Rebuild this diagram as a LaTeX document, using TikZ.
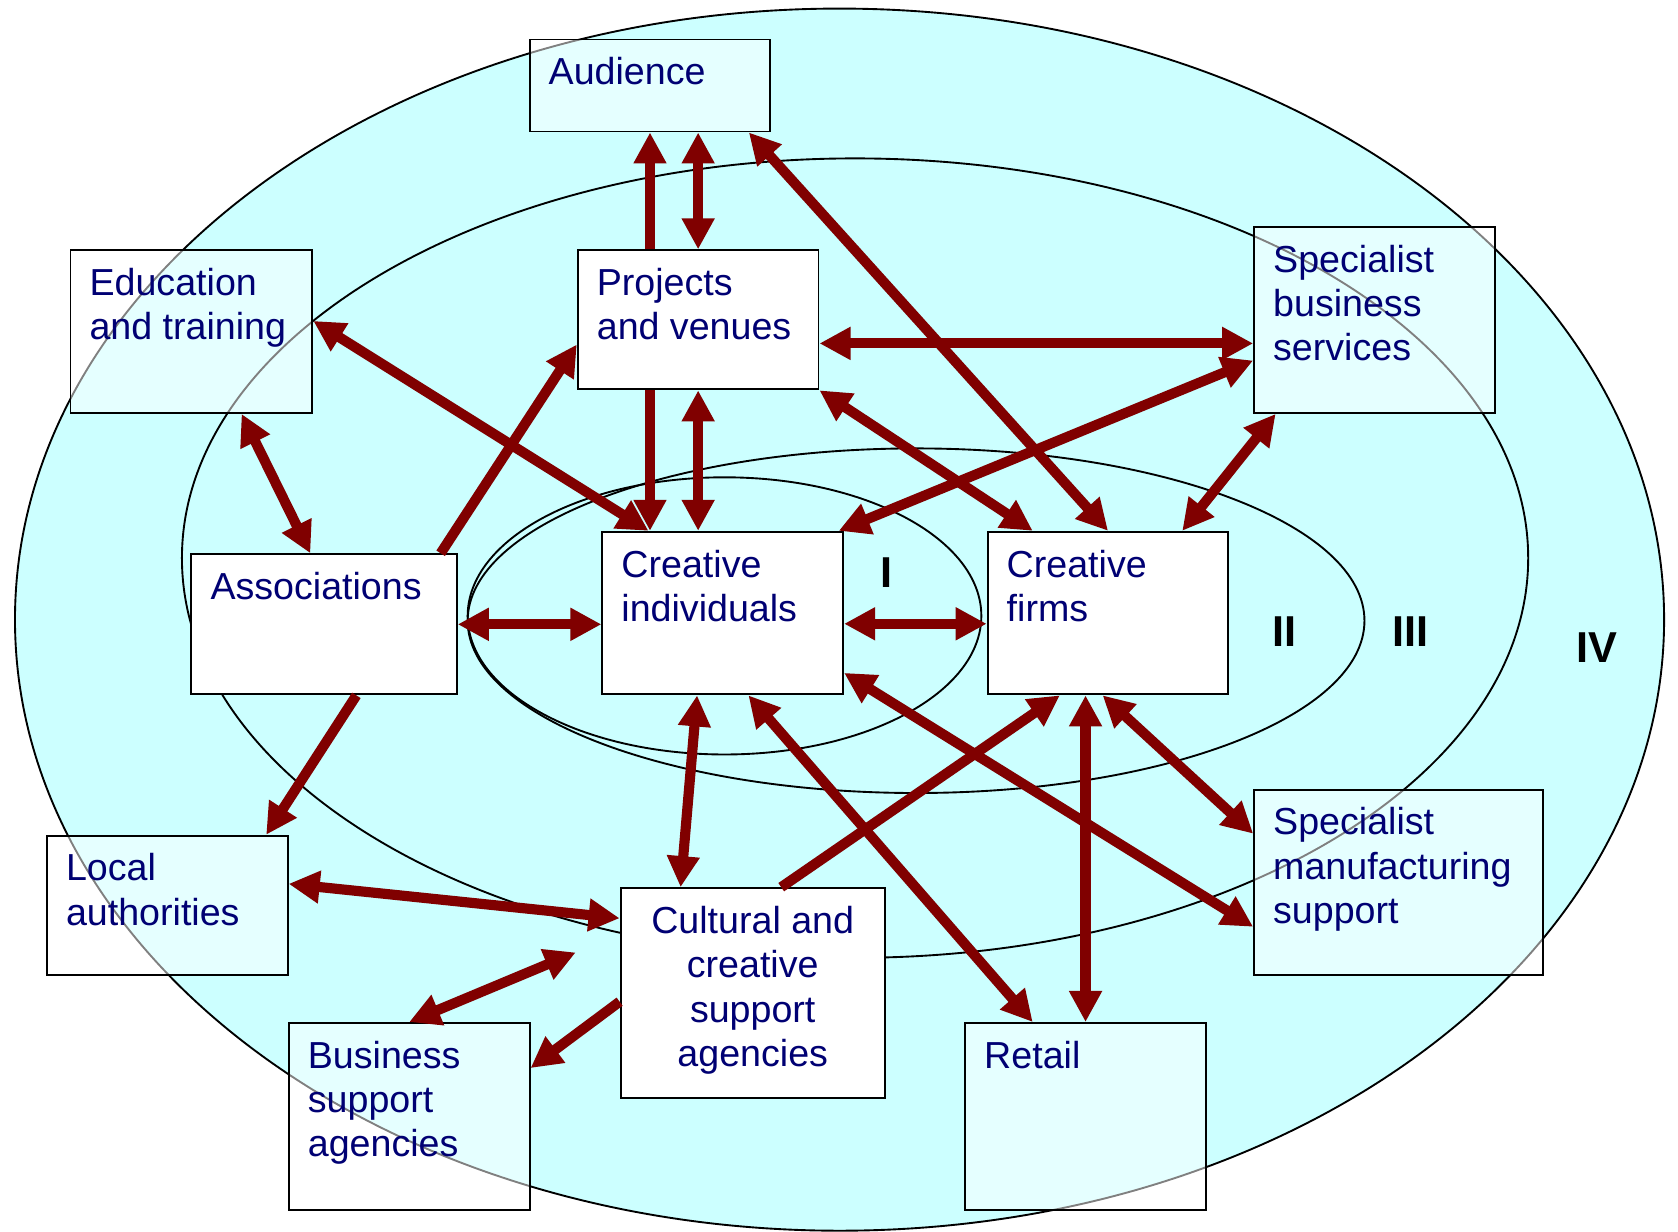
\documentclass[tikz,border=0pt]{standalone}
\usepackage{fontspec}
\setmainfont{Liberation Sans}
\usetikzlibrary{arrows.meta}

\definecolor{ring}{RGB}{204,255,255}
\definecolor{link}{RGB}{128,0,0}
\definecolor{boxtext}{RGB}{0,0,115}
\tikzset{
  actor/.style={draw,fill=white,line width=0.5pt,inner sep=0pt,anchor=north west},
  outer/.style={actor,fill opacity=0.5},
  textbase/.style={inner sep=0pt,text=boxtext,text opacity=1,font=\fontsize{10}{11.8}\selectfont},
  boxlabel/.style={textbase,anchor=north west,xshift=1.8mm,yshift=-1.7mm,align=left},
  midlabel/.style={textbase,anchor=north,yshift=-1.7mm,align=center},
  numeral/.style={font=\fontsize{11.5}{13}\selectfont\bfseries},
  oneway/.style={line width=2.7pt,draw=link,-{Triangle[length=2.9mm,width=2.9mm]}},
  twoway/.style={line width=2.7pt,draw=link,{Triangle[length=2.9mm,width=2.9mm]}-{Triangle[length=2.9mm,width=2.9mm]}},
}

\begin{document}
\begin{tikzpicture}
  \useasboundingbox (0,0) rectangle (15.68,-11.51);
  % the four rings
  \filldraw[fill=ring,line width=0.5pt] (7.845,-5.79) ellipse [x radius=7.705,y radius=5.71];
  \draw[line width=0.5pt] (7.99,-5.215) ellipse [x radius=6.29,y radius=3.735];
  \draw[line width=0.5pt] (8.56,-5.80) ellipse [x radius=4.19,y radius=1.61];
  \draw[line width=0.5pt] (6.77,-5.755) ellipse [x radius=2.40,y radius=1.295];

  \node[numeral] (lvl1) at (8.28,-5.35) {I};
  \node[numeral] (lvl2) at (12.00,-5.90) {II};
  \node[numeral] (lvl3) at (13.18,-5.90) {III};
  \node[numeral] (lvl4) at (14.92,-6.05) {IV};

  % boxes
  \node[outer,minimum width=2.25cm,minimum height=0.86cm] (aud) at (4.94,-0.36) {};
  \node[outer,minimum width=2.26cm,minimum height=1.52cm] (edu) at (0.65,-2.33) {};
  \node[actor,minimum width=2.25cm,minimum height=1.30cm] (proj) at (5.39,-2.33) {};
  \node[outer,minimum width=2.25cm,minimum height=1.74cm] (sbs) at (11.71,-2.11) {};
  \node[actor,minimum width=2.48cm,minimum height=1.31cm] (assoc) at (1.78,-5.17) {};
  \node[actor,minimum width=2.25cm,minimum height=1.52cm] (ci) at (5.62,-4.96) {};
  \node[actor,minimum width=2.25cm,minimum height=1.52cm] (firms) at (9.22,-4.96) {};
  \node[outer,minimum width=2.25cm,minimum height=1.30cm] (local) at (0.43,-7.80) {};
  \node[outer,minimum width=2.70cm,minimum height=1.73cm] (smfg) at (11.71,-7.37) {};
  \node[actor,minimum width=2.47cm,minimum height=1.96cm] (cult) at (5.79,-8.29) {};
  \node[outer,minimum width=2.25cm,minimum height=1.75cm] (bsa) at (2.69,-9.55) {};
  \node[outer,minimum width=2.25cm,minimum height=1.75cm] (retail) at (9.01,-9.55) {};

  \node[boxlabel] (audtxt) at (aud.north west) {Audience};
  \node[boxlabel] (edutxt) at (edu.north west) {Education\\and training};
  \node[boxlabel] (projtxt) at (proj.north west) {Projects\\and venues};
  \node[boxlabel] (sbstxt) at (sbs.north west) {Specialist\\business\\services};
  \node[boxlabel] (assoctxt) at (assoc.north west) {Associations};
  \node[boxlabel] (citxt) at (ci.north west) {Creative\\individuals};
  \node[boxlabel] (firmstxt) at (firms.north west) {Creative\\firms};
  \node[boxlabel] (localtxt) at (local.north west) {Local\\authorities};
  \node[boxlabel] (smfgtxt) at (smfg.north west) {Specialist\\manufacturing\\support};
  \node[midlabel] (culttxt) at (cult.north) {Cultural and\\creative\\support\\agencies};
  \node[boxlabel] (bsatxt) at (bsa.north west) {Business\\support\\agencies};
  \node[boxlabel] (retailtxt) at (retail.north west) {Retail};

  % links
  \draw[oneway] (aud.south |- proj.north) -- (aud.south);
  \draw[twoway] (proj.north) -- (proj.north |- aud.south);
  \draw[oneway] (aud.south |- proj.south) -- (aud.south |- ci.north);
  \draw[twoway] (proj.south) -- (proj.south |- ci.north);
  \draw[twoway] ([xshift=-2.1mm]aud.south east) -- (firms.north);
  \draw[twoway] ([yshift=-2.2mm]proj.east) -- ([yshift=-2.2mm]sbs.west);
  \draw[twoway] ([xshift=-0.5mm]ci.north east) -- ([yshift=-3.8mm]sbs.west);
  \draw[twoway] (proj.south east) -- ([xshift=4.3mm]firms.north west);
  \draw[twoway] ([xshift=2.1mm]sbs.south west) -- ([xshift=-4.4mm]firms.north east);
  \draw[twoway] ([yshift=1mm]edu.east) -- ([xshift=4.4mm]ci.north west);
  \draw[twoway] ([xshift=-6.7mm]edu.south east) -- ([xshift=11.2mm]assoc.north west);
  \draw[oneway] ([xshift=-1.6mm]assoc.north east) -- ([yshift=-2.3mm]proj.west);
  \draw[twoway] (assoc.east) -- (assoc.east -| ci.west);
  \draw[twoway] ([yshift=-1mm]ci.east) -- ([yshift=-1mm]firms.west);
  \draw[oneway] ([xshift=15.5mm]assoc.south west) -- ([xshift=-2.1mm]local.north east);
  \draw[twoway] ([yshift=2mm]local.east) -- ([yshift=-2.9mm]cult.north west);
  \coordinate (gap) at ([xshift=-4.1mm,yshift=-6.1mm]cult.north west);
  \draw[twoway] (bsa.north) -- (gap);
  \draw[oneway] ([yshift=-10.7mm]cult.north west) -- ([yshift=-4.3mm]bsa.north east);
  \draw[twoway] ([xshift=-2.4mm]ci.south) -- ([xshift=5.7mm]cult.north west);
  \draw[twoway] ([xshift=2.4mm]ci.south) -- ([xshift=6.4mm]retail.north west);
  \draw[oneway] ([xshift=15.1mm]cult.north west) -- ([xshift=-4.5mm]firms.south);
  \draw[twoway] (retail.north |- firms.south) -- (retail.north);
  \draw[twoway] ([xshift=-0.5mm]firms.south) -- ([yshift=-4.2mm]smfg.north west);
  \draw[twoway] ([yshift=2.1mm]ci.south east) -- ([yshift=-12.9mm]smfg.north west);
\end{tikzpicture}
\end{document}
